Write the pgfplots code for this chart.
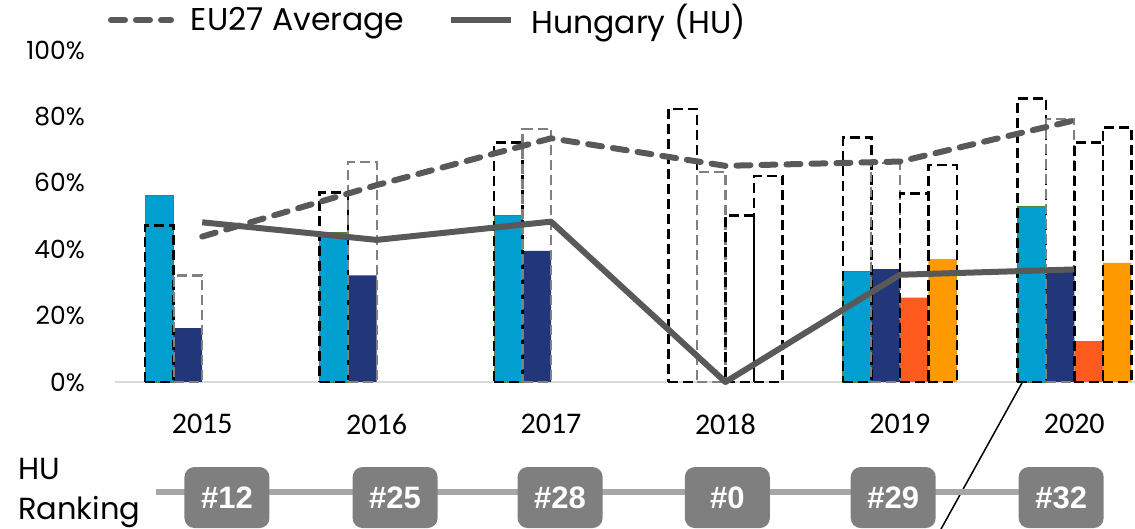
\documentclass[border=0pt]{standalone}
\usepackage{pgfplots}
\pgfplotsset{compat=1.18}
\usepackage{fontspec}
\setmainfont{Poppins}
\newfontfamily\carlito{Carlito}
\newfontfamily\libsans{Liberation Sans}
\definecolor{cbar}{RGB}{0,159,207}
\definecolor{cedge}{RGB}{84,130,53}
\definecolor{nbar}{RGB}{33,55,122}
\definecolor{rbar}{RGB}{255,91,31}
\definecolor{obar}{RGB}{255,153,0}
\definecolor{linegray}{RGB}{89,89,89}
\definecolor{dgray}{RGB}{128,128,128}
\definecolor{basegray}{RGB}{217,217,217}
\definecolor{rankbox}{RGB}{127,127,127}
\definecolor{rankline}{RGB}{166,166,166}
\begin{document}
\begin{tikzpicture}
\useasboundingbox (-115pt,-147pt) rectangle (1020pt,382pt);
\begin{axis}[
  at={(0pt,0pt)}, anchor=south west,
  scale only axis, width=1020pt, height=332pt,
  xmin=-0.5, xmax=5.3486, ymin=0, ymax=100,
  clip=false,
  axis lines*=left,
  x axis line style={draw=basegray, line width=1.5pt},
  y axis line style={draw=none},
  xtick={0,1,2,3,4,5}, xticklabels={2015,2016,2017,2018,2019,2020},
  ytick={0,20,40,60,80,100}, yticklabels={0\%,20\%,40\%,60\%,80\%,100\%},
  major tick length=0pt,
  tick style={draw=none},
  yticklabel style={font=\fontsize{25}{28}\selectfont, inner sep=0pt, xshift=-30pt, anchor=east},
  xticklabel style={font=\carlito\fontsize{30}{32}\selectfont, inner sep=0pt, yshift=-32pt, anchor=north},
  legend style={at={(-0.00686,1.0904)}, anchor=west, draw=none, fill=none, inner sep=0pt, outer sep=0pt,
    font=\fontsize{31.5}{34}\selectfont, legend columns=2,
    /tikz/every even column/.append style={column sep=44pt},
    /tikz/every odd column/.append style={column sep=17pt},
    nodes={inner sep=0pt, anchor=west}},
  legend image code/.code={\draw[#1] (0pt,0pt) -- (60pt,0pt);},
]
% filled bars
\addplot[ybar, bar width=0.1634, bar shift=-0.2451, fill=cbar, draw=cedge, line width=0.8pt, forget plot]
  coordinates {(0,56.1)(1,45)(2,50.1)(4,33.4)(5,53)};
\addplot[ybar, bar width=0.1634, bar shift=-0.0817, fill=nbar, draw=none, forget plot]
  coordinates {(0,16.2)(1,32.1)(2,39.5)(4,34.0)(5,33.2)};
\addplot[ybar, bar width=0.1634, bar shift=0.0817, fill=rbar, draw=none, forget plot]
  coordinates {(4,25.4)(5,12.3)};
\addplot[ybar, bar width=0.1634, bar shift=0.2451, fill=obar, draw=none, forget plot]
  coordinates {(4,37.0)(5,35.9)};
% dashed outline bars
\addplot[ybar, bar width=0.1634, bar shift=-0.2451, fill=none, draw=black, line width=2.5pt, dash pattern=on 10pt off 5pt, forget plot]
  coordinates {(0,47.1)(1,57.1)(2,72.2)(3,82.2)(4,73.7)(5,85.4)};
\addplot[ybar, bar width=0.1634, bar shift=-0.0817, fill=none, draw=dgray, line width=2.2pt, dash pattern=on 10pt off 5pt, forget plot]
  coordinates {(0,32.1)(1,66.2)(2,76.2)(3,63.3)(4,66.0)(5,79.2)};
\addplot[ybar, bar width=0.1634, bar shift=0.0817, fill=none, draw=black, line width=2.5pt, dash pattern=on 10pt off 5pt, forget plot]
  coordinates {(3,50.1)(4,56.8)(5,72.1)};
\addplot[ybar, bar width=0.1634, bar shift=0.2451, fill=none, draw=black, line width=2.5pt, dash pattern=on 10pt off 5pt, forget plot]
  coordinates {(3,62.1)(4,65.4)(5,76.6)};
% lines
\addplot[linegray, line width=6pt, line cap=round, dash pattern=on 14pt off 11pt]
  coordinates {(0,43.8)(1,59.3)(2,73.4)(3,65.1)(4,66.4)(5,78.8)};
\addlegendentry{EU27 Average}
\addplot[linegray, line width=6pt, line join=round]
  coordinates {(0,48.1)(1,42.8)(2,48.3)(3,0)(4,32.3)(5,33.9)};
\addlegendentry{Hungary (HU)}
% stray connector line
\draw[black, line width=1.5pt] (axis cs:4.70,-0.3) -- (axis cs:4.236,-44.3);
% ranking row
\draw[rankline, line width=6pt] (axis cs:-0.265,-33.1) -- (axis cs:4.7,-33.1);
\tikzset{rk/.style={fill=rankbox, rounded corners=10pt, minimum width=85pt, minimum height=61pt, inner sep=0pt, text=white, font=\libsans\bfseries\fontsize{31}{33}\selectfont}}
\node[rk] at (axis cs:0.142,-34.8) {\#12};
\node[rk] at (axis cs:1.106,-34.8) {\#25};
\node[rk] at (axis cs:2.052,-34.8) {\#28};
\node[rk] at (axis cs:3.011,-34.8) {\#0};
\node[rk] at (axis cs:3.962,-34.8) {\#29};
\node[rk] at (axis cs:4.925,-34.8) {\#32};
\node[anchor=west, align=left, inner sep=0pt, font=\fontsize{30.5}{40}\selectfont] at (axis cs:-1.056,-33.4) {HU\\Ranking};
\end{axis}
\end{tikzpicture}
\end{document}
